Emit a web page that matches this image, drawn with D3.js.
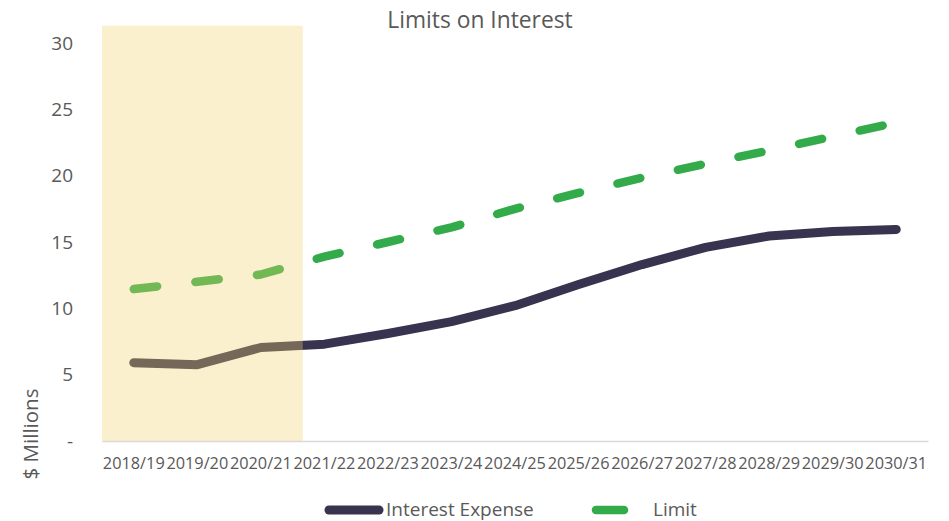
<!DOCTYPE html>
<html><head><meta charset="utf-8">
<script src="https://cdn.jsdelivr.net/npm/d3@7"></script>
<style>
html,body{margin:0;padding:0;background:#fff;}
svg{display:block;font-family:"Open Sans", sans-serif;}
</style></head>
<body><svg id="chart" width="949" height="521"></svg>
<script>
const categories = ["2018/19","2019/20","2020/21","2021/22","2022/23","2023/24","2024/25","2025/26","2026/27","2027/28","2028/29","2029/30","2030/31"];
const interestExpense = [5.9, 5.75, 7.05, 7.3, 8.1, 9.0, 10.2, 11.8, 13.3, 14.6, 15.45, 15.8, 15.95];
const limitValues = [11.45, 12.0, 12.55, 13.9, 15.0, 16.1, 17.5, 18.7, 19.85, 20.9, 21.9, 22.95, 24.0];
const yTicks = [0, 5, 10, 15, 20, 25, 30];
const shadedCategories = ["2018/19","2019/20","2020/21"];
const title = "Limits on Interest";
const yTitle = "$ Millions";
const seriesNames = ["Interest Expense", "Limit"];

const svg = d3.select("#chart");
const plotLeft = 102, plotRight = 928, plotBottom = 441, plotTop = 43;
const textColor = "#595959";
const darkColor = "#38334F";
const greenColor = "#34AB4A";
const FONT = "'Open Sans', sans-serif";

const x = d3.scaleBand().domain(categories).range([plotLeft, plotRight]).paddingInner(0).paddingOuter(0);
const y = d3.scaleLinear().domain([0, 30]).range([plotBottom, plotTop]);
const cx = c => x(c) + x.bandwidth() / 2;

// Y axis
const yAxis = svg.append("g").attr("transform", `translate(${plotLeft},0)`)
  .call(d3.axisLeft(y).tickValues(yTicks).tickSize(0).tickPadding(29)
    .tickFormat(d => d === 0 ? "-" : d));
yAxis.select(".domain").remove();
yAxis.selectAll("text").attr("fill", textColor).style("font-size", "19px").style("font-family", FONT);

// X axis
const xAxis = svg.append("g").attr("transform", `translate(0,${plotBottom})`)
  .call(d3.axisBottom(x).tickSize(0).tickPadding(16));
xAxis.select(".domain").attr("stroke", "#D9D9D9").attr("stroke-width", 1.5);
xAxis.selectAll("text").attr("fill", textColor).style("font-size", "16.3px").style("font-family", FONT);

// lines
const line = d3.line().x((d, i) => cx(categories[i])).y(d => y(d));
svg.append("path").datum(interestExpense).attr("d", line)
  .attr("fill", "none").attr("stroke", darkColor).attr("stroke-width", 9)
  .attr("stroke-linecap", "round").attr("stroke-linejoin", "round");
svg.append("path").datum(limitValues).attr("d", line)
  .attr("fill", "none").attr("stroke", greenColor).attr("stroke-width", 8.5)
  .attr("stroke-linecap", "round").attr("stroke-linejoin", "round")
  .attr("stroke-dasharray", "23.5,38.5");

// shaded historical region (overlay)
const sx0 = x(shadedCategories[0]);
const sx1 = x(shadedCategories[shadedCategories.length - 1]) + x.bandwidth() * 1.16;
svg.append("rect").attr("x", sx0).attr("y", y(31.3)).attr("width", sx1 - sx0).attr("height", plotBottom - y(31.3))
  .attr("fill", "rgb(240,210,109)").attr("fill-opacity", 0.335);

// title
svg.append("text").attr("x", 480).attr("y", 28).attr("text-anchor", "middle")
  .attr("fill", textColor).style("font-size", "22.8px").style("font-family", FONT).text(title);

// y title
svg.append("text").attr("transform", "translate(38,434) rotate(-90)").attr("text-anchor", "middle")
  .attr("fill", textColor).style("font-size", "20.5px").style("font-family", FONT).text(yTitle);

// legend
const lg = svg.append("g");
lg.append("line").attr("x1", 329).attr("x2", 379).attr("y1", 510).attr("y2", 510)
  .attr("stroke", darkColor).attr("stroke-width", 9).attr("stroke-linecap", "round");
lg.append("text").attr("x", 386).attr("y", 516).attr("fill", textColor).style("font-size", "19px").style("font-family", FONT).text(seriesNames[0]);
lg.append("line").attr("x1", 596).attr("x2", 624).attr("y1", 510).attr("y2", 510)
  .attr("stroke", greenColor).attr("stroke-width", 8.5).attr("stroke-linecap", "round");
lg.append("text").attr("x", 653).attr("y", 516).attr("fill", textColor).style("font-size", "19px").style("font-family", FONT).text(seriesNames[1]);
</script>
</body></html>
